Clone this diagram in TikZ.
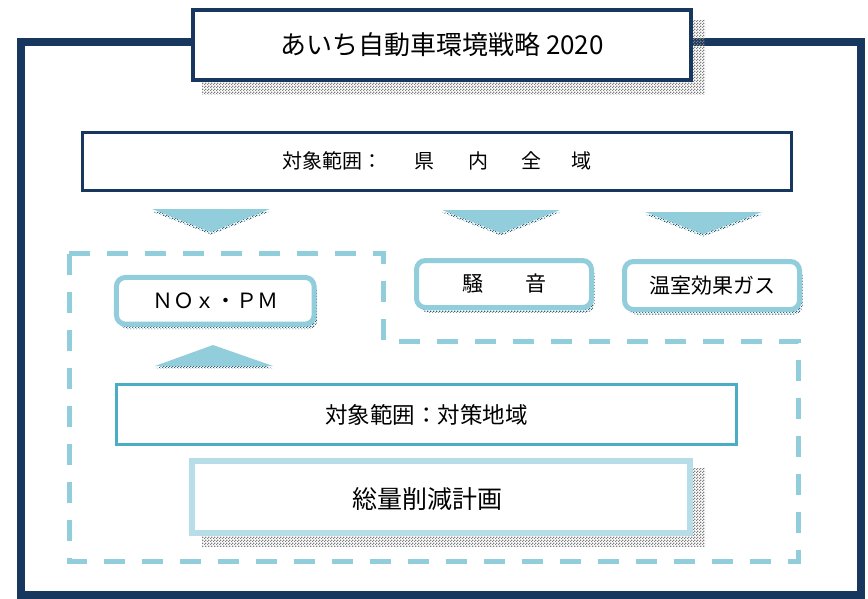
\documentclass[tikz,border=0pt]{standalone}
\usepackage{fontspec}
\setmainfont{Noto Sans CJK JP}
\usetikzlibrary{patterns}
\pgfdeclarepatternformonly{checkerpat}{\pgfqpoint{0pt}{0pt}}{\pgfqpoint{3pt}{3pt}}{\pgfqpoint{3pt}{3pt}}{%
  \pgfpathrectangle{\pgfqpoint{0pt}{0pt}}{\pgfqpoint{1.5pt}{1.5pt}}%
  \pgfpathrectangle{\pgfqpoint{1.5pt}{1.5pt}}{\pgfqpoint{1.5pt}{1.5pt}}%
  \pgfusepath{fill}}
\definecolor{navy}{HTML}{17375E}
\definecolor{aqua}{HTML}{92CDDC}
\definecolor{aquamid}{HTML}{4BACC6}
\definecolor{aqualight}{HTML}{B7DEE8}
\definecolor{rimdots}{HTML}{2A6373}
\definecolor{shadowgray}{HTML}{7F7F7F}
\begin{document}
\begin{tikzpicture}[x=1pt,y=-1pt,
  bigshadow/.style={pattern=checkerpat, pattern color=shadowgray},
  rimshadow/.style={pattern=checkerpat, pattern color=rimdots},
  navybox/.style={draw=navy, fill=white, inner sep=0pt},
  pill/.style={draw=aqua, line width=5pt, rounded corners=9pt, fill=white, inner sep=0pt,
    font=\fontsize{21}{25}\selectfont,
    preaction={rimshadow, transform canvas={shift={(3pt,-5pt)}}}},
  blockarrow/.style={fill=aqua},
  zone/.style={draw=aqua, line width=5pt, dash pattern=on 21pt off 17pt},
]
\useasboundingbox (0,0) rectangle (868,598);
% outer frame
\draw[navy, line width=8pt] (21,42) rectangle (861,595);
% title
\fill[bigshadow] (202,20) rectangle (705,94);
\node[navybox, line width=4pt, minimum width=498pt, minimum height=70pt,
  font=\fontsize{26}{30}\selectfont] (title) at (442,45) {あいち自動車環境戦略 2020};
% area box
\node[navybox, line width=3pt, minimum width=709pt, minimum height=58pt,
  font=\fontsize{20}{24}\selectfont] (areabox) at (436.5,161)
  {対象範囲：\hspace{32pt}県\hspace{34pt}内\hspace{33pt}全\hspace{30pt}域};
% down arrows
\fill[rimshadow, shift={(0,2.5)}] (152,209) -- (270,209) -- (211,232) -- cycle;
\fill[blockarrow] (152,209) -- (270,209) -- (211,232) -- cycle;
\fill[rimshadow, shift={(0,2.5)}] (442,210) -- (560,210) -- (501,233) -- cycle;
\fill[blockarrow] (442,210) -- (560,210) -- (501,233) -- cycle;
\fill[rimshadow, shift={(0,2.5)}] (645,212) -- (762,212) -- (703,234) -- cycle;
\fill[blockarrow] (645,212) -- (762,212) -- (703,234) -- cycle;
% up arrow
\fill[rimshadow, shift={(0,2.5)}] (155,366) -- (273,366) -- (213,345) -- cycle;
\fill[blockarrow] (155,366) -- (273,366) -- (213,345) -- cycle;
% dashed zone
\draw[zone] (69,253) -- (383,253) -- (383,341) -- (798,341) -- (798,561) -- (69,561) -- cycle;
% pills
\node[pill, minimum width=197.7pt, minimum height=46.7pt] (noxpm) at (215.3,300.8) {ＮＯｘ・ＰＭ};
\node[pill, minimum width=175pt, minimum height=47pt] (noise) at (504,284) {騒　　音};
\node[pill, minimum width=175pt, minimum height=48pt] (ghg) at (712,285.5) {温室効果ガス};
% target area
\node[draw=aquamid, line width=3pt, fill=white, minimum width=620pt, minimum height=60pt,
  inner sep=0pt, font=\fontsize{22.5}{27}\selectfont] (target) at (426.5,414.5) {対象範囲：対策地域};
% plan
\fill[bigshadow] (202,468) rectangle (705,546.5);
\node[draw=aqualight, line width=6pt, fill=white, minimum width=498pt, minimum height=72pt,
  inner sep=0pt] (plan) at (441,497) {};
\node[font=\fontsize{25}{30}\selectfont] (plantext) at (427,499) {総量削減計画};
\end{tikzpicture}
\end{document}
